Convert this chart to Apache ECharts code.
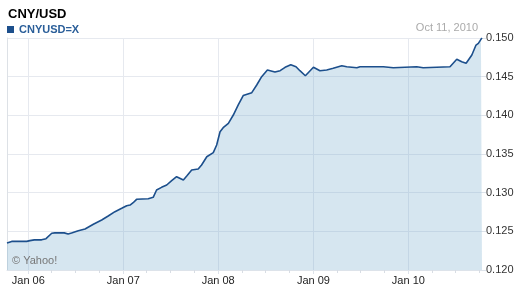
<!DOCTYPE html>
<html><head><meta charset="utf-8">
<script src="https://cdn.jsdelivr.net/npm/echarts@6/dist/echarts.min.js"></script>
<style>html,body{margin:0;padding:0;background:#fff}#c{width:521px;height:292px}</style>
</head><body><div id="c"></div>
<script>
const seriesName = 'CNYUSD=X';
const dates = ['2005-10-11','2005-10-29','2005-12-26','2005-12-29','2006-01-07','2006-01-24','2006-02-21','2006-02-24','2006-03-10','2006-04-01','2006-04-13','2006-05-19','2006-06-03','2006-06-16','2006-07-12','2006-08-07','2006-09-08','2006-10-10','2006-11-04','2006-11-30','2006-12-26','2007-01-14','2007-01-27','2007-02-08','2007-02-21','2007-04-07','2007-04-26','2007-05-09','2007-05-28','2007-06-17','2007-07-06','2007-07-25','2007-08-20','2007-09-02','2007-09-21','2007-10-16','2007-10-29','2007-11-18','2007-12-13','2007-12-26','2008-01-08','2008-01-20','2008-02-09','2008-02-28','2008-03-18','2008-04-06','2008-05-09','2008-05-28','2008-06-16','2008-07-08','2008-08-06','2008-08-26','2008-09-14','2008-10-06','2008-10-26','2008-11-10','2008-12-01','2009-01-01','2009-01-26','2009-02-21','2009-03-18','2009-04-20','2009-05-09','2009-06-17','2009-06-29','2009-09-27','2009-10-03','2009-11-04','2009-11-11','2010-02-02','2010-02-07','2010-02-27','2010-03-06','2010-06-10','2010-07-06','2010-07-25','2010-08-11','2010-09-02','2010-09-18','2010-09-27','2010-10-07','2010-10-11'];
const values = [0.1235,0.1237,0.1237,0.1238,0.1238,0.1239,0.1239,0.12405,0.12405,0.12475,0.1248,0.1248,0.12466,0.12478,0.12508,0.1253,0.12591,0.12647,0.12698,0.12754,0.12798,0.12831,0.1284,0.1287,0.12914,0.12922,0.1294,0.13034,0.13069,0.13099,0.13155,0.13206,0.13164,0.13215,0.13293,0.13306,0.13358,0.13465,0.13517,0.13616,0.13788,0.1384,0.13897,0.14004,0.14134,0.14256,0.14293,0.14392,0.145,0.14586,0.1456,0.14577,0.14621,0.14655,0.14629,0.14577,0.14512,0.14621,0.14577,0.14586,0.14608,0.14642,0.14629,0.14616,0.14629,0.14629,0.14616,0.14616,0.14629,0.14629,0.14616,0.14616,0.14629,0.14629,0.14725,0.14694,0.14673,0.1478,0.14909,0.14931,0.14983,0.1500];
const yearTicks = ['2006-01-01','2007-01-01','2008-01-01','2009-01-01','2010-01-01'];
const yearLabels = ['Jan 06','Jan 07','Jan 08','Jan 09','Jan 10'];
const quarterTicks = ['2006-04-01','2006-07-01','2006-10-01','2007-04-01','2007-07-01','2007-10-01','2008-04-01','2008-07-01','2008-10-01','2009-04-01','2009-07-01','2009-10-01','2010-04-01','2010-07-01','2010-10-01'];
const startDate = '2005-10-11', endDate = '2010-10-11';
const yMin = 0.120, yMax = 0.150, yStep = 0.005;

const ts = s => { const p = s.split('-'); return Date.UTC(+p[0], +p[1]-1, +p[2]); };
const labelMap = {};
yearTicks.forEach((d,i)=>{ labelMap[ts(d)] = yearLabels[i]; });
const FONT = '"Liberation Sans", Arial, sans-serif';
const chart = echarts.init(document.getElementById('c'), null, {renderer:'canvas'});
chart.setOption({
  animation:false,
  backgroundColor:'#fff',
  textStyle:{fontFamily:FONT},
  title:[
    {text:'CNY/USD', left:8, top:8, padding:0, textStyle:{fontFamily:FONT, fontSize:13, fontWeight:'bold', color:'#000'}},
    {text:'Oct 11, 2010', right:43, top:22, padding:0, textStyle:{fontFamily:FONT, fontSize:11, fontWeight:'normal', color:'#aaaaaa'}},
    {text:'© Yahoo!', left:12, top:255, padding:0, textStyle:{fontFamily:FONT, fontSize:11, fontWeight:'normal', color:'#777'}}
  ],
  legend:{left:7, top:24, padding:0, icon:'rect', itemWidth:7, itemHeight:7, itemGap:4,
    textStyle:{fontFamily:FONT, fontSize:11, fontWeight:'bold', color:'#2a5e99'},
    data:[seriesName]},
  grid:{left:7, right:39, top:38, bottom:22, containLabel:false},
  xAxis:[
    {type:'value', min:ts(startDate), max:ts(endDate),
      axisLine:{show:true, lineStyle:{color:'#dde3ea', width:1}},
      axisTick:{show:true, length:4, customValues:yearTicks.map(ts), lineStyle:{color:'#dde3ea'}},
      axisLabel:{show:true, customValues:yearTicks.map(ts), formatter:v=>labelMap[v]||'', color:'#222', fontSize:11, fontFamily:FONT, margin:5},
      splitLine:{show:true, lineStyle:{color:'#e6e9ef', width:1}}},
    {type:'value', min:ts(startDate), max:ts(endDate), position:'bottom',
      axisLine:{show:false},
      axisTick:{show:true, length:3, customValues:quarterTicks.map(ts), lineStyle:{color:'#d8dde4'}},
      axisLabel:{show:false}, splitLine:{show:false}}
  ],
  yAxis:[
    {type:'value', position:'right', min:yMin, max:yMax, interval:yStep,
      axisLine:{show:false},
      axisTick:{show:true, length:4, lineStyle:{color:'#dde3ea'}},
      axisLabel:{color:'#333', fontSize:11, fontFamily:FONT, margin:4, formatter:v=>v.toFixed(3)},
      splitLine:{show:true, lineStyle:{color:'#e6e9ef', width:1}}},
    {type:'value', position:'left', min:yMin, max:yMax, interval:yStep,
      axisLine:{show:true, lineStyle:{color:'#dde1e6', width:1}},
      axisTick:{show:false}, axisLabel:{show:false}, splitLine:{show:false}}
  ],
  series:[{
    name:seriesName, type:'line', xAxisIndex:0, yAxisIndex:0,
    data:dates.map((d,i)=>[ts(d), values[i]]),
    symbol:'none', smooth:false,
    lineStyle:{color:'#1c4f8c', width:1.6},
    itemStyle:{color:'#1c4f8c'},
    areaStyle:{color:'rgba(118,172,205,0.3)', opacity:1, origin:'start'},
    z:1
  }]
});
</script></body></html>
